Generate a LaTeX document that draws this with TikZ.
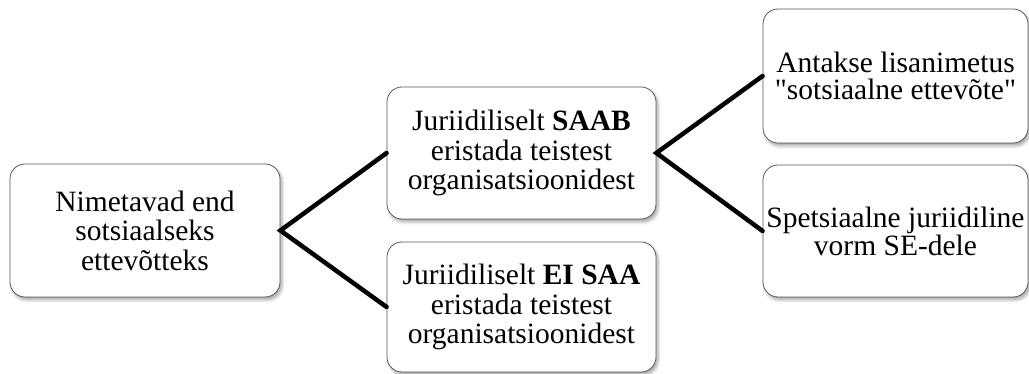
\documentclass[tikz,border=0pt]{standalone}
\usepackage{fontspec}
\setmainfont{Liberation Serif}
% same face without the TeX input mapping, so that " stays a straight quote
\newfontfamily\straightq{Liberation Serif}
\newcommand{\sq}{{\straightq\symbol{34}}}
\usetikzlibrary{shadows.blur}
\begin{document}
\begin{tikzpicture}[x=1pt,y=1pt,
  box/.style={draw=black!65, line width=0.8pt, fill=white, rounded corners=15pt,
    minimum height=132pt, inner sep=0pt, align=center,
    font=\fontsize{29.5}{29.5}\selectfont,
    blur shadow={shadow xshift=2pt, shadow yshift=-3pt, shadow blur steps=6,
      shadow opacity=35, shadow blur radius=3pt}},
  link/.style={line width=4.5pt, black, line cap=round}]
\useasboundingbox (0,0) rectangle (1029,374);

\node[box, minimum width=270pt, minimum height=133pt] (root) at (145,143.5)
  {Nimetavad end\\sotsiaalseks\\ettevõtteks};
\node[box, minimum width=269pt] (yes) at (521.5,221)
  {Juriidiliselt \textbf{SAAB}\\eristada teistest\\organisatsioonidest};
\node[box, minimum width=269pt, minimum height=130pt] (no) at (521.5,67)
  {Juriidiliselt \textbf{EI SAA}\\eristada teistest\\organisatsioonidest};
\node[box, minimum width=265pt, minimum height=134pt, font=\fontsize{29.5}{27}\selectfont] (name) at (895.5,298)
  {Antakse lisanimetus\\\sq sotsiaalne ettevõte\sq};
\node[box, minimum width=265pt, font=\fontsize{29.5}{28}\selectfont] (form) at (895.5,143)
  {Spetsiaalne juriidiline\\vorm SE-dele};

\draw[link] (yes.west) -- (root.east) -- (no.west);
\draw[link] (name.west) -- (yes.east) -- (form.west);
\end{tikzpicture}
\end{document}
